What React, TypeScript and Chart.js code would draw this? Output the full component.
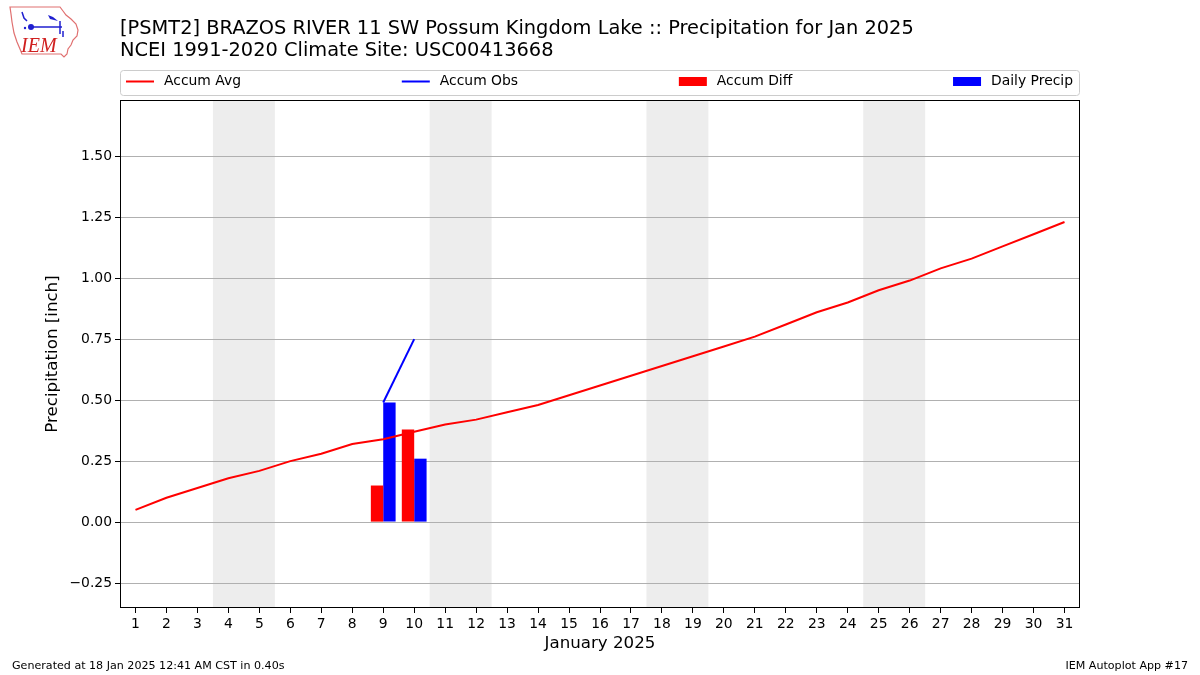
import React, { useEffect, useRef } from 'react';
import { Chart, registerables } from 'chart.js';
Chart.register(...registerables);

const dayLabels = ['1','2','3','4','5','6','7','8','9','10','11','12','13','14','15','16','17','18','19','20','21','22','23','24','25','26','27','28','29','30','31'];
const accumAvg = [0.05,0.10,0.14,0.18,0.21,0.25,0.28,0.32,0.34,0.37,0.40,0.42,0.45,0.48,0.52,0.56,0.60,0.64,0.68,0.72,0.76,0.81,0.86,0.90,0.95,0.99,1.04,1.08,1.13,1.18,1.23];
const accumObs = [null,null,null,null,null,null,null,null,0.49,0.75,null,null,null,null,null,null,null,null,null,null,null,null,null,null,null,null,null,null,null,null,null];
const accumDiff = [null,null,null,null,null,null,null,null,0.15,0.38,null,null,null,null,null,null,null,null,null,null,null,null,null,null,null,null,null,null,null,null,null];
const dailyPrecip = [null,null,null,null,null,null,null,null,0.49,0.26,null,null,null,null,null,null,null,null,null,null,null,null,null,null,null,null,null,null,null,null,null];
const weekendSpans = [['4','5'],['11','12'],['18','19'],['25','26']];
const yTicks = [-0.25, 0, 0.25, 0.5, 0.75, 1.0, 1.25, 1.5];
const yMin = -0.352;
const yMax = 1.73;

const titleLines = [
  '[PSMT2] BRAZOS RIVER 11 SW Possum Kingdom Lake :: Precipitation for Jan 2025',
  'NCEI 1991-2020 Climate Site: USC00413668',
];
const xTitle = 'January 2025';
const yTitle = 'Precipitation [inch]';
const footerLeft = 'Generated at 18 Jan 2025 12:41 AM CST in 0.40s';
const footerRight = 'IEM Autoplot App #17';

const FONT = '"DejaVu Sans", sans-serif';

const legendItems = [
  { label: 'Accum Avg', kind: 'line', color: '#ff0000' },
  { label: 'Accum Obs', kind: 'line', color: '#0000ff' },
  { label: 'Accum Diff', kind: 'bar', color: '#ff0000' },
  { label: 'Daily Precip', kind: 'bar', color: '#0000ff' },
];

function drawLogo(ctx: CanvasRenderingContext2D) {
  ctx.save();
  ctx.strokeStyle = '#e07070';
  ctx.lineWidth = 1.2;
  ctx.beginPath();
  ctx.moveTo(10, 7);
  ctx.lineTo(60, 7);
  ctx.lineTo(63, 11);
  ctx.lineTo(66, 15);
  ctx.lineTo(71, 19);
  ctx.lineTo(76, 24);
  ctx.lineTo(78, 30);
  ctx.lineTo(77, 36);
  ctx.lineTo(73, 40);
  ctx.lineTo(71, 45);
  ctx.lineTo(68, 49);
  ctx.lineTo(67, 54);
  ctx.lineTo(64, 57);
  ctx.lineTo(61, 54);
  ctx.lineTo(22, 54);
  ctx.lineTo(20, 49);
  ctx.lineTo(17, 42);
  ctx.lineTo(14, 33);
  ctx.lineTo(12, 22);
  ctx.lineTo(11, 14);
  ctx.closePath();
  ctx.stroke();
  ctx.strokeStyle = '#2020d0';
  ctx.fillStyle = '#2020d0';
  ctx.lineWidth = 1.5;
  ctx.beginPath();
  ctx.moveTo(22, 12); ctx.lineTo(24, 18); ctx.lineTo(27, 21);
  ctx.moveTo(31, 27); ctx.lineTo(62, 27);
  ctx.moveTo(60, 21); ctx.lineTo(60, 34);
  ctx.moveTo(63, 31); ctx.lineTo(63, 37);
  ctx.stroke();
  ctx.beginPath();
  ctx.arc(31, 27, 3, 0, Math.PI * 2);
  ctx.fill();
  ctx.beginPath();
  ctx.moveTo(48, 15); ctx.lineTo(53, 17); ctx.lineTo(58, 21); ctx.lineTo(50, 19); ctx.closePath();
  ctx.fill();
  ctx.beginPath();
  ctx.arc(25, 28, 1.2, 0, Math.PI * 2);
  ctx.fill();
  ctx.fillStyle = '#d02020';
  ctx.font = 'italic 20px "Liberation Serif", serif';
  ctx.textBaseline = 'alphabetic';
  ctx.textAlign = 'left';
  ctx.fillText('IEM', 21, 52);
  ctx.restore();
}

const decorPlugin = {
  id: 'decor',
  beforeDraw(chart: any) {
    const { ctx, chartArea } = chart;
    const x = chart.scales.x;
    const half = (x.getPixelForValue(1) - x.getPixelForValue(0)) / 2;
    ctx.save();
    ctx.fillStyle = '#ededed';
    weekendSpans.forEach(([a, b]) => {
      const x0 = x.getPixelForValue(dayLabels.indexOf(a)) - half;
      const x1 = x.getPixelForValue(dayLabels.indexOf(b)) + half;
      ctx.fillRect(x0, chartArea.top, x1 - x0, chartArea.bottom - chartArea.top);
    });
    ctx.restore();
  },
  afterDraw(chart: any) {
    const { ctx, chartArea } = chart;
    ctx.save();
    ctx.strokeStyle = '#000';
    ctx.lineWidth = 1;
    ctx.strokeRect(chartArea.left + 0.5, chartArea.top + 0.5, chartArea.right - chartArea.left - 1, chartArea.bottom - chartArea.top - 1);

    ctx.fillStyle = '#000';
    ctx.textAlign = 'left';
    ctx.textBaseline = 'middle';
    ctx.font = `19.4px ${FONT}`;
    ctx.fillText(titleLines[0], chartArea.left, 29);
    ctx.fillText(titleLines[1], chartArea.left, 51);

    ctx.font = `16.67px ${FONT}`;
    ctx.textAlign = 'center';
    ctx.fillText(xTitle, (chartArea.left + chartArea.right) / 2, 644);
    ctx.save();
    ctx.translate(53, (chartArea.top + chartArea.bottom) / 2);
    ctx.rotate(-Math.PI / 2);
    ctx.fillText(yTitle, 0, 0);
    ctx.restore();

    ctx.font = `11.1px ${FONT}`;
    ctx.textAlign = 'left';
    ctx.fillText(footerLeft, 12, 666);
    ctx.textAlign = 'right';
    ctx.fillText(footerRight, 1188, 666);

    const lx = chartArea.left, lw = chartArea.right - chartArea.left;
    const ly = 70, lh = 25;
    ctx.fillStyle = 'rgba(255,255,255,0.8)';
    ctx.strokeStyle = '#cccccc';
    ctx.lineWidth = 1;
    ctx.beginPath();
    (ctx as any).roundRect(lx + 0.5, ly + 0.5, lw - 1, lh, 3);
    ctx.fill();
    ctx.stroke();
    ctx.font = `13.9px ${FONT}`;
    const handleW = 28, gapTxt = 10;
    const widths = legendItems.map((it) => handleW + gapTxt + ctx.measureText(it.label).width);
    const startX = lx + 6, endX = lx + lw - 7;
    const total = widths.reduce((a, b) => a + b, 0);
    const gap = (endX - startX - total) / (legendItems.length - 1);
    let cx = startX;
    const cy = ly + 11.5;
    legendItems.forEach((it, i) => {
      if (it.kind === 'line') {
        ctx.strokeStyle = it.color;
        ctx.lineWidth = 2;
        ctx.beginPath();
        ctx.moveTo(cx, cy);
        ctx.lineTo(cx + handleW, cy);
        ctx.stroke();
      } else {
        ctx.fillStyle = it.color;
        ctx.fillRect(cx, cy - 4.5, handleW, 9);
      }
      ctx.fillStyle = '#000';
      ctx.textAlign = 'left';
      ctx.textBaseline = 'middle';
      ctx.fillText(it.label, cx + handleW + gapTxt, cy);
      cx += widths[i] + gap;
    });

    drawLogo(ctx);
    ctx.restore();
  },
};

export default function App() {
  const ref = useRef<HTMLCanvasElement>(null);
  useEffect(() => {
    if (!ref.current) return;
    const chart = new Chart(ref.current, {
      type: 'bar',
      data: {
        labels: dayLabels,
        datasets: [
          { type: 'line', label: 'Accum Avg', data: accumAvg, borderColor: '#ff0000', backgroundColor: '#ff0000', borderWidth: 2, pointRadius: 0, tension: 0 } as any,
          { type: 'line', label: 'Accum Obs', data: accumObs, borderColor: '#0000ff', backgroundColor: '#0000ff', borderWidth: 2, pointRadius: 0, tension: 0, spanGaps: false } as any,
          { type: 'bar', label: 'Accum Diff', data: accumDiff, backgroundColor: '#ff0000', categoryPercentage: 0.8, barPercentage: 1.0 },
          { type: 'bar', label: 'Daily Precip', data: dailyPrecip, backgroundColor: '#0000ff', categoryPercentage: 0.8, barPercentage: 1.0 },
        ],
      },
      options: {
        responsive: false,
        animation: false,
        devicePixelRatio: 1,
        layout: { padding: { left: 0, top: 100, right: 120, bottom: 0 } },
        plugins: { legend: { display: false }, title: { display: false }, tooltip: { enabled: false } },
        scales: {
          x: {
            type: 'category',
            offset: true,
            grid: { display: true, drawOnChartArea: false, drawTicks: true, tickLength: 5, tickColor: '#000', offset: false },
            border: { display: false },
            ticks: { color: '#000', font: { family: FONT, size: 13.9 }, padding: 3, maxRotation: 0, autoSkip: false },
            afterFit: (s: any) => { s.height = 67; },
          },
          y: {
            type: 'linear',
            min: yMin,
            max: yMax,
            afterBuildTicks: (s: any) => { s.ticks = yTicks.map((v) => ({ value: v })); },
            grid: { color: '#b0b0b0', lineWidth: 1, tickLength: 5, tickColor: '#000', drawTicks: true },
            border: { display: false },
            ticks: {
              color: '#000',
              font: { family: FONT, size: 13.9 },
              padding: 3,
              callback: (v: any) => { const n = Number(v); return (n < 0 ? '\u2212' : '') + Math.abs(n).toFixed(2); },
            },
            afterFit: (s: any) => { s.width = 120; },
          },
        },
      },
      plugins: [decorPlugin],
    } as any);
    return () => chart.destroy();
  }, []);
  return (
    <div style={{ position: 'absolute', left: 0, top: 0, width: 1200, height: 675, background: '#fff' }}>
      <canvas ref={ref} width={1200} height={675} style={{ display: 'block' }} />
    </div>
  );
}
